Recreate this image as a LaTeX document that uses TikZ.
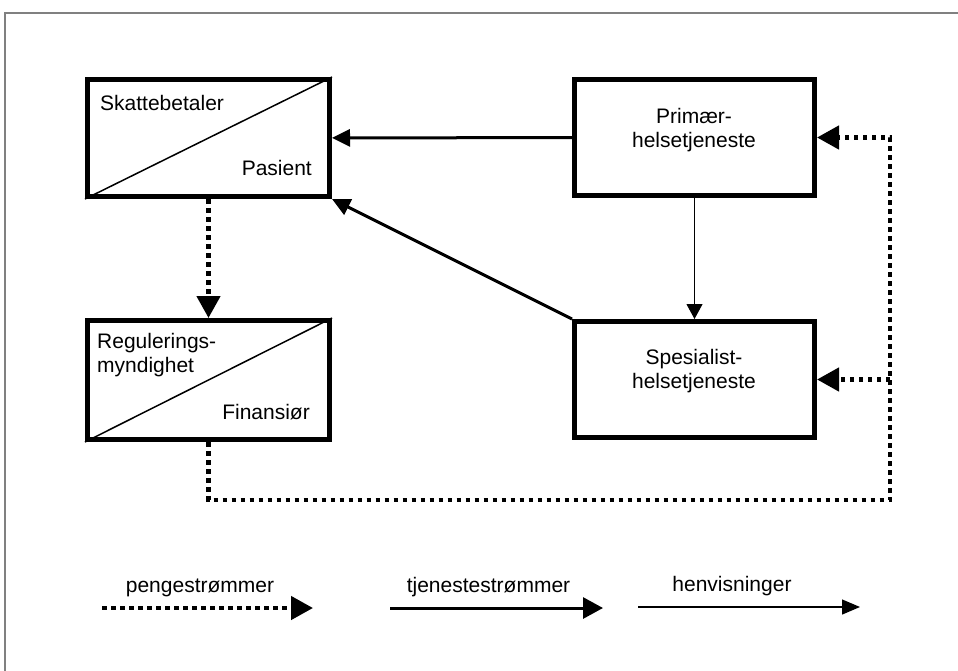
\documentclass[tikz,border=0pt]{standalone}
\usepackage{fontspec}
\setmainfont{Liberation Sans}
\usetikzlibrary{arrows.meta,calc}
\begin{document}
\begin{tikzpicture}[x=1pt,y=-1pt,
  box/.style={draw, line width=5pt, minimum width=242pt, minimum height=117pt, inner sep=0pt},
  diag/.style={line width=1.5pt},
  lbl/.style={font=\fontsize{21}{24}\selectfont, inner sep=0pt},
  money/.style={line width=4.5pt, dash pattern=on 4.5pt off 4.5pt, -{Triangle[length=22pt,width=23pt]}},
  serv/.style={line width=3pt, -{Triangle[length=18pt,width=17pt]}},
  refer/.style={line width=1pt, -{Triangle[length=15pt,width=16pt]}},
  frameline/.style={draw=black!50, line width=2pt}
]
\useasboundingbox (0,0) rectangle (958,670);
\draw[frameline] (5,672) -- (5,13) -- (960,13);

% boxes
\node[box] (A) at (208.5,138) {};
\node[box, minimum height=119pt] (B) at (208.5,380) {};
\node[box, minimum width=240pt, minimum height=116pt] (C) at (694.5,137.5) {};
\node[box, minimum width=240pt, minimum height=116pt] (D) at (694.5,379.5) {};

\draw[diag] (A.south west) -- (A.north east);
\draw[diag] (B.south west) -- (B.north east);

% labels
\node[lbl, anchor=west] (tA1) at (100,103) {Skattebetaler};
\node[lbl, anchor=east] (tA2) at (312,168) {Pasient};
\node[lbl, anchor=west, align=left] (tB1) at (97,355) {Regulerings-\\myndighet};
\node[lbl, anchor=east] (tB2) at (310,412) {Finansiør};
\node[lbl, align=center] (tC) at (694,130) {Primær-\\helsetjeneste};
\node[lbl, align=center] (tD) at (694,371.5) {Spesialist-\\helsetjeneste};

% service flows
\draw[serv] (C) -- (A);
\draw[serv] (D.north west) -- (A.south east);
% referral
\draw[refer] (C) -- (D);
% money flows
\coordinate (m2) at (890,500);
\draw[money] (A) -- (B);
\draw[money] (B.south) |- (m2) |- (C.east);
\draw[money] (m2 |- D.east) -- (D.east);

% legend
\node[lbl, anchor=base] (L1) at (200,592) {pengestrømmer};
\node[lbl, anchor=base] (L2) at (488.5,592) {tjenestestrømmer};
\node[lbl, anchor=base] (L3) at (732,591) {henvisninger};
\coordinate (L1a) at (102,608);
\coordinate (L1b) at (313,608);
\coordinate (L2a) at (390,608);
\coordinate (L2b) at (603,608);
\coordinate (L3a) at (638,607);
\coordinate (L3b) at (860,607);
\draw[money] (L1a) -- (L1b);
\draw[serv, -{Triangle[length=20pt,width=21pt]}] (L2a) -- (L2b);
\draw[line width=1.3pt, -{Triangle[length=18pt,width=15pt]}] (L3a) -- (L3b);
\end{tikzpicture}
\end{document}
